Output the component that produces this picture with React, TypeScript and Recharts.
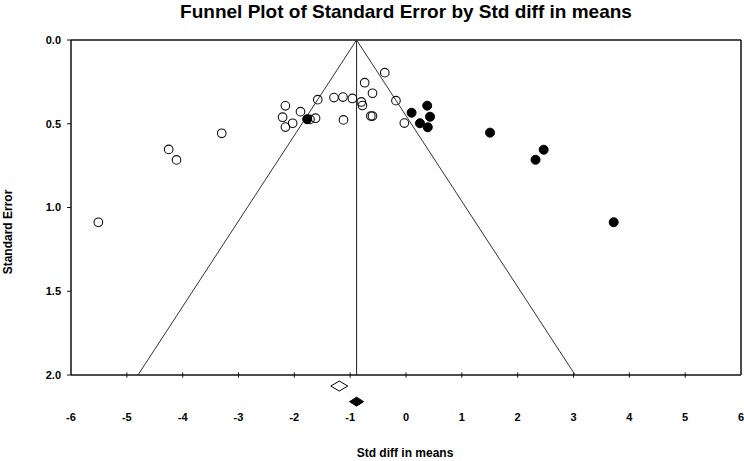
import {
  ScatterChart,
  Scatter,
  XAxis,
  YAxis,
  ReferenceLine,
} from 'recharts';

// Observed studies (open circles): effect size and standard error
const observedX = [
  -5.51, -4.25, -4.11, -3.3, -2.16, -1.89, -2.21, -2.03, -2.16, -1.62, -1.58, -1.29, -1.13,
  -0.96, -0.8, -0.78, -1.12, -0.63, -0.6, -0.74, -0.6, -0.38, -0.18, -0.03, -1.72,
];
const observedSE = [
  1.088, 0.653, 0.716, 0.557, 0.393, 0.428, 0.461, 0.497, 0.52, 0.467, 0.356, 0.344, 0.341,
  0.349, 0.37, 0.391, 0.477, 0.454, 0.454, 0.255, 0.318, 0.195, 0.362, 0.496, 0.474,
];

// Imputed studies (filled circles)
const imputedX = [-1.77, 0.1, 0.38, 0.43, 0.25, 0.39, 1.505, 2.466, 2.32, 3.72];
const imputedSE = [0.473, 0.434, 0.392, 0.458, 0.497, 0.521, 0.553, 0.655, 0.715, 1.088];

// Summary diamonds (observed / adjusted), drawn below the axis
const observedMean = { x: -1.195, y: 2.066 };
const adjustedMean = { x: -0.885, y: 2.159 };

// Funnel: apex at the adjusted mean, base at SE = 2.0
const funnelBaseLeft = -4.8;
const funnelBaseRight = 3.03;

const xTicks = [-6, -5, -4, -3, -2, -1, 0, 1, 2, 3, 4, 5, 6];
const yTicks = [0, 0.5, 1, 1.5, 2];

const observed = observedX.map((x, i) => ({ x, y: observedSE[i] }));
const imputed = imputedX.map((x, i) => ({ x, y: imputedSE[i] }));

const FONT = '"Liberation Sans", Arial, sans-serif';

const OpenCircle = (props: any) => (
  <circle cx={props.cx} cy={props.cy} r={4.3} fill="none" stroke="#111" strokeWidth={1.1} />
);
const FilledCircle = (props: any) => (
  <circle cx={props.cx} cy={props.cy} r={4.5} fill="#000" stroke="#000" />
);
const Diamond = ({ cx, cy, w, h, fill }: any) => (
  <polygon
    points={`${cx - w},${cy} ${cx},${cy - h} ${cx + w},${cy} ${cx},${cy + h}`}
    fill={fill}
    stroke="#000"
    strokeWidth={1}
  />
);

export default function App() {
  const border = '#111';
  const ticks = { fontSize: 11, fontWeight: 700, fill: '#000', fontFamily: FONT };
  return (
    <div style={{ position: 'absolute', left: 0, top: 0, width: 744, height: 461, background: '#fff', fontFamily: FONT }}>
      <div
        style={{
          position: 'absolute',
          left: 71,
          width: 670,
          top: 0,
          textAlign: 'center',
          fontSize: 19,
          fontWeight: 700,
          lineHeight: '24px',
        }}
      >
        Funnel Plot of Standard Error by Std diff in means
      </div>
      <div
        style={{
          position: 'absolute',
          left: 8,
          top: 232,
          transform: 'translate(-50%, -50%) rotate(-90deg)',
          whiteSpace: 'nowrap',
          fontSize: 12,
          fontWeight: 700,
        }}
      >
        Standard Error
      </div>
      <div
        style={{
          position: 'absolute',
          left: 405,
          top: 446,
          transform: 'translateX(-50%)',
          whiteSpace: 'nowrap',
          fontSize: 12,
          fontWeight: 700,
          lineHeight: '14px',
        }}
      >
        Std diff in means
      </div>
      <ScatterChart width={744} height={461} margin={{ top: 40, right: 3, left: 11, bottom: 22.5 }}>
        <XAxis
          type="number"
          dataKey="x"
          domain={[-6, 6]}
          ticks={xTicks}
          axisLine={false}
          tickLine={false}
          tickSize={0}
          tickMargin={5}
          height={30}
          tick={ticks}
          interval={0}
        />
        <YAxis
          type="number"
          dataKey="y"
          domain={[0, 2.2]}
          reversed
          ticks={yTicks}
          tickFormatter={(v: number) => v.toFixed(1)}
          axisLine={false}
          tickLine={{ stroke: border }}
          tickSize={4}
          tickMargin={6}
          width={60}
          tick={ticks}
          interval={0}
        />
        {/* plot frame, stops at SE = 2.0 */}
        <ReferenceLine segment={[{ x: -6, y: 0 }, { x: 6, y: 0 }]} stroke={border} strokeWidth={1.5} />
        <ReferenceLine segment={[{ x: -6, y: 2 }, { x: 6, y: 2 }]} stroke={border} strokeWidth={1.5} />
        <ReferenceLine segment={[{ x: -6, y: 0 }, { x: -6, y: 2 }]} stroke={border} strokeWidth={1.5} />
        <ReferenceLine segment={[{ x: 6, y: 0 }, { x: 6, y: 2 }]} stroke={border} strokeWidth={1.5} />
        {xTicks.slice(1, -1).map((t) => (
          <ReferenceLine key={t} segment={[{ x: t, y: 1.985 }, { x: t, y: 2.016 }]} stroke={border} strokeWidth={1} />
        ))}
        {/* funnel */}
        <ReferenceLine segment={[{ x: adjustedMean.x, y: 0 }, { x: adjustedMean.x, y: 2 }]} stroke="#222" strokeWidth={1} />
        <ReferenceLine segment={[{ x: adjustedMean.x, y: 0 }, { x: funnelBaseLeft, y: 2 }]} stroke="#333" strokeWidth={1} />
        <ReferenceLine segment={[{ x: adjustedMean.x, y: 0 }, { x: funnelBaseRight, y: 2 }]} stroke="#333" strokeWidth={1} />
        <Scatter data={observed} shape={<OpenCircle />} isAnimationActive={false} />
        <Scatter data={imputed} shape={<FilledCircle />} isAnimationActive={false} />
        <Scatter
          data={[observedMean]}
          shape={(p: any) => <Diamond cx={p.cx} cy={p.cy} w={8.5} h={5} fill="#fff" />}
          isAnimationActive={false}
        />
        <Scatter
          data={[adjustedMean]}
          shape={(p: any) => <Diamond cx={p.cx} cy={p.cy} w={7} h={4.5} fill="#000" />}
          isAnimationActive={false}
        />
      </ScatterChart>
    </div>
  );
}
